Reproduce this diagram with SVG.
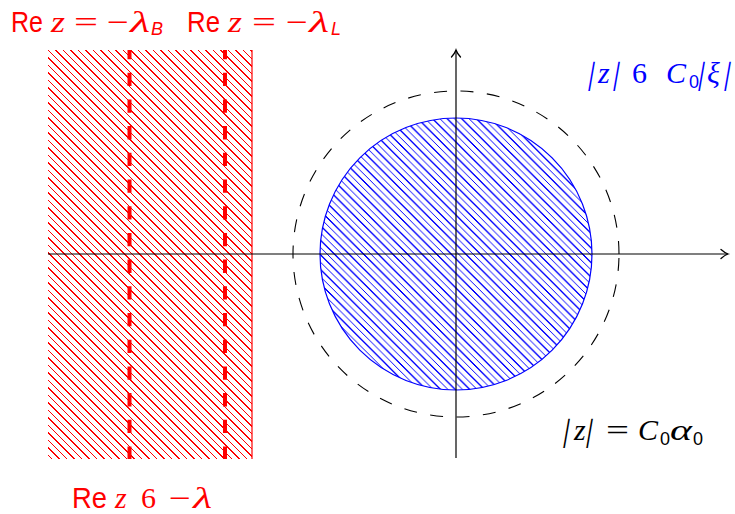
<svg xmlns="http://www.w3.org/2000/svg" width="735" height="514" viewBox="0 0 735 514">
<style>
.sans{font-family:"Liberation Sans",Arial,sans-serif;}
.ser{font-family:"Liberation Serif","Times New Roman",serif;}
.it{font-style:italic;}
.red{fill:#ff0000;}
.blue{fill:#0000ff;}
.blk{fill:#000000;}
.t{font-size:30px;}
.bar{font-size:32px;}
.sub{font-size:18px;}
.axis{stroke:#000;stroke-width:1.2;fill:none;}
</style>
<defs>
<pattern id="hatchRed" patternUnits="userSpaceOnUse" x="48" y="50" width="15" height="15">
<path d="M-1 -1L16 16M6.5 -1L16 8.5M-1 6.5L8.5 16" stroke="#ff0000" stroke-width="1.1" shape-rendering="crispEdges"/>
</pattern>
<pattern id="hatchBlue" patternUnits="userSpaceOnUse" x="0" y="0" width="14.6" height="14.6">
<path d="M-1 -1L15.6 15.6M6.3 -1L15.6 8.3M-1 6.3L8.3 15.6" stroke="#0000ff" stroke-width="1" shape-rendering="crispEdges"/>
</pattern>
<marker id="arr" markerUnits="userSpaceOnUse" markerWidth="14" markerHeight="14" refX="10" refY="6" orient="auto" viewBox="0 0 14 12">
<path d="M3 1.5Q7 5 10 6Q7 7 3 10.5" fill="none" stroke="#000" stroke-width="1.3" stroke-linecap="round"/>
</marker>
</defs>

<g id="region-left">
<rect x="48" y="50" width="204" height="409" fill="url(#hatchRed)"/>
<line x1="252" y1="50" x2="252" y2="459" stroke="#ff0000" stroke-width="1.2"/>
<line x1="129.5" y1="50" x2="129.5" y2="459" stroke="#ff0000" stroke-width="4" stroke-dasharray="13.3 13.4" stroke-dashoffset="4"/>
<line x1="225" y1="50" x2="225" y2="459" stroke="#ff0000" stroke-width="4" stroke-dasharray="13.3 13.4" stroke-dashoffset="4"/>
</g>

<g id="disk">
<circle cx="456" cy="254" r="136" fill="url(#hatchBlue)" stroke="#0000ff" stroke-width="1.2"/>
</g>

<g id="dashed-circle">
<path d="M619 254A163 163 0 1 0 293 254A163 163 0 1 0 619 254" fill="none" stroke="#000" stroke-width="1.1" stroke-dasharray="13 13.5"/>
</g>

<g id="connectors">
<line class="axis" x1="48" y1="254" x2="728" y2="254" marker-end="url(#arr)"/>
<line class="axis" x1="456" y1="458" x2="456" y2="50" marker-end="url(#arr)"/>
</g>

<g id="label-top">
<text class="sans red t" x="11" y="32" textLength="32" lengthAdjust="spacingAndGlyphs">Re</text>
<text class="ser it red t" x="51" y="32" textLength="14" lengthAdjust="spacingAndGlyphs">z</text>
<text class="ser red t" x="74" y="32" textLength="24" lengthAdjust="spacingAndGlyphs">=</text>
<text class="ser red t" x="107" y="32" textLength="22" lengthAdjust="spacingAndGlyphs">−</text>
<text class="ser it red t" x="130" y="32" textLength="20" lengthAdjust="spacingAndGlyphs">λ</text>
<text class="sans it red sub" x="151" y="34.5">B</text>
<text class="sans red t" x="187" y="32" textLength="33" lengthAdjust="spacingAndGlyphs">Re</text>
<text class="ser it red t" x="228" y="32" textLength="14" lengthAdjust="spacingAndGlyphs">z</text>
<text class="ser red t" x="252" y="32" textLength="24" lengthAdjust="spacingAndGlyphs">=</text>
<text class="ser red t" x="286" y="32" textLength="22" lengthAdjust="spacingAndGlyphs">−</text>
<text class="ser it red t" x="309" y="32" textLength="20" lengthAdjust="spacingAndGlyphs">λ</text>
<text class="sans it red sub" x="331" y="34.5">L</text>
</g>

<g id="label-disk">
<text class="ser blue bar" transform="translate(587 84) skewX(-10)">|</text>
<text class="ser it blue t" x="598" y="83">z</text>
<text class="ser blue bar" transform="translate(612 84) skewX(-10)">|</text>
<text class="ser blue t" x="632" y="83">6</text>
<text class="ser it blue t" x="666" y="83">C</text>
<text class="sans blue sub" x="689" y="88">0</text>
<text class="ser blue bar" transform="translate(697 84) skewX(-10)">|</text>
<text class="ser it blue t" x="707" y="83">ξ</text>
<text class="ser blue bar" transform="translate(723 84) skewX(-10)">|</text>
</g>

<g id="label-circle">
<text class="ser blk bar" transform="translate(562 441) skewX(-10)">|</text>
<text class="ser it blk t" x="574" y="440">z</text>
<text class="ser blk bar" transform="translate(585 441) skewX(-10)">|</text>
<text class="ser blk t" x="606" y="440" textLength="23" lengthAdjust="spacingAndGlyphs">=</text>
<text class="ser it blk t" x="638" y="440">C</text>
<text class="sans blk sub" x="660" y="445">0</text>
<text class="ser it blk t" x="670" y="440" textLength="22" lengthAdjust="spacingAndGlyphs">α</text>
<text class="sans blk sub" x="693" y="445">0</text>
</g>

<g id="label-bottom">
<text class="sans red t" x="72" y="508" textLength="35" lengthAdjust="spacingAndGlyphs">Re</text>
<text class="ser it red t" x="115" y="508">z</text>
<text class="ser red t" x="141" y="508">6</text>
<text class="ser red t" x="169" y="508" textLength="22" lengthAdjust="spacingAndGlyphs">−</text>
<text class="ser it red t" x="193" y="508" textLength="19" lengthAdjust="spacingAndGlyphs">λ</text>
</g>
</svg>
